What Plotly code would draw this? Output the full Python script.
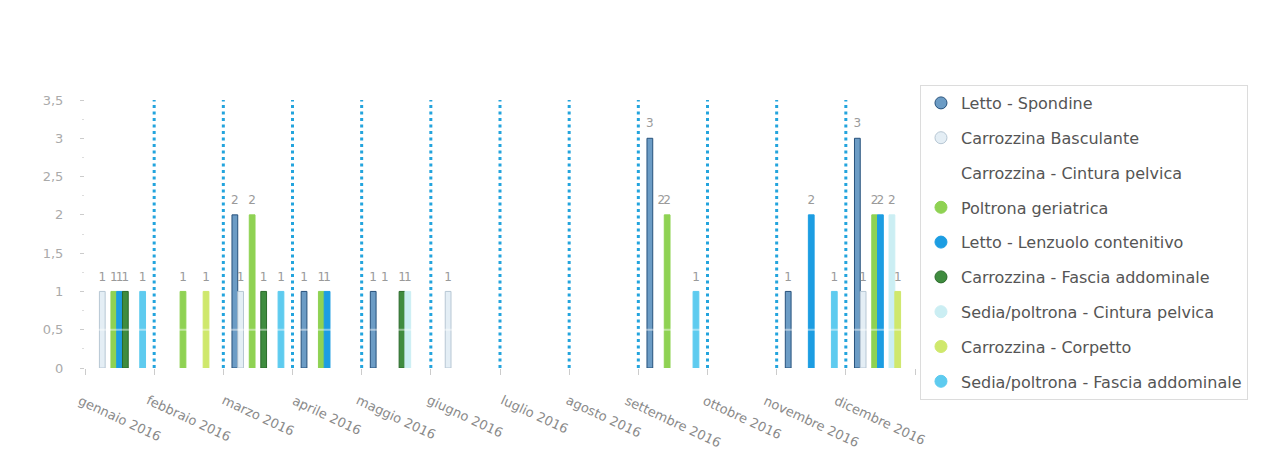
import plotly.graph_objects as go

# Monthly counts per restraint type (2016)
months = ["gennaio 2016", "febbraio 2016", "marzo 2016", "aprile 2016",
          "maggio 2016", "giugno 2016", "luglio 2016", "agosto 2016",
          "settembre 2016", "ottobre 2016", "novembre 2016", "dicembre 2016"]

series_names = [
    "Letto - Spondine",
    "Carrozzina Basculante",
    "Carrozzina - Cintura pelvica",
    "Poltrona geriatrica",
    "Letto - Lenzuolo contenitivo",
    "Carrozzina - Fascia addominale",
    "Sedia/poltrona - Cintura pelvica",
    "Carrozzina - Corpetto",
    "Sedia/poltrona - Fascia addominale",
]

letto_spondine = [0, 0, 2, 1, 1, 0, 0, 0, 3, 0, 1, 3]
carrozzina_basculante = [1, 0, 1, 0, 0, 1, 0, 0, 0, 0, 0, 1]
carrozzina_cintura_pelvica = [0, 0, 0, 0, 1, 0, 0, 0, 2, 0, 0, 0]
poltrona_geriatrica = [1, 1, 2, 1, 0, 0, 0, 0, 2, 0, 0, 2]
letto_lenzuolo = [1, 0, 0, 1, 0, 0, 0, 0, 0, 0, 2, 2]
carrozzina_fascia = [1, 0, 1, 0, 1, 0, 0, 0, 0, 0, 0, 0]
sedia_cintura_pelvica = [0, 0, 0, 0, 1, 0, 0, 0, 0, 0, 0, 2]
carrozzina_corpetto = [0, 1, 0, 0, 0, 0, 0, 0, 0, 0, 0, 1]
sedia_fascia = [1, 0, 1, 0, 0, 0, 0, 0, 1, 0, 1, 0]

series_values = [letto_spondine, carrozzina_basculante, carrozzina_cintura_pelvica,
                 poltrona_geriatrica, letto_lenzuolo, carrozzina_fascia,
                 sedia_cintura_pelvica, carrozzina_corpetto, sedia_fascia]

fill_colors = ["#6c9cc5", "#e4eef5", "#ffffff", "#8fd253", "#1c9de2",
               "#3f8c3f", "#cbeef3", "#cfe86c", "#5ecbef"]
edge_colors = ["#27527c", "#b7c7d4", "#ffffff", "#8fd253", "#1c9de2",
               "#2b6a2b", "#cbeef3", "#cfe86c", "#5ecbef"]

y_ticks = [0, 0.5, 1, 1.5, 2, 2.5, 3, 3.5]
GAP = 0.25

fig = go.Figure()

for name, vals, fc, ec in zip(series_names, series_values, fill_colors, edge_colors):
    shown = [v if v else None for v in vals]
    fig.add_trace(go.Bar(
        x=months, y=shown, name=name, legendgroup=name, offsetgroup=name,
        showlegend=False,
        marker=dict(color=fc, line=dict(color=ec, width=1)),
    ))
    # value labels above each bar, grouped like the bars
    fig.add_trace(go.Scatter(
        x=months, y=shown, name=name, legendgroup=name, offsetgroup=name,
        showlegend=False, mode="markers+text", text=[f"{v}" if v else "" for v in vals],
        textposition="top center", cliponaxis=False, hoverinfo="skip",
        marker=dict(size=11, color="rgba(0,0,0,0)"),
        textfont=dict(family="DejaVu Sans", size=12, color="#9a9a9a"),
    ))
    # round legend symbol
    fig.add_trace(go.Scatter(
        x=[None], y=[None], mode="markers", name=name, legendgroup=name,
        offsetgroup=name,
        marker=dict(symbol="circle", size=12, color=fc,
                    line=dict(color=ec if fc != "#ffffff" else "#ffffff", width=1)),
    ))

# dotted separators between months
shapes = []
for b in range(len(months) - 1):
    shapes.append(dict(type="line", xref="x", yref="y", x0=b + 0.5, x1=b + 0.5,
                       y0=0, y1=3.5, line=dict(color="#23a4dd", width=3, dash="3px,3.5px"),
                       layer="above"))
# faint band across the bars at 0,5
shapes.append(dict(type="line", xref="paper", yref="y", x0=0, x1=1, y0=0.5, y1=0.5,
                   line=dict(color="rgba(255,255,255,0.45)", width=2), layer="above"))

# rotated month labels centred under each month
annotations = []
for m in months:
    annotations.append(dict(x=m, xref="x", y=-0.082, yref="paper", text=m,
                            showarrow=False, textangle=25, xanchor="center",
                            yanchor="top",
                            font=dict(family="DejaVu Sans", size=13, color="#8a8a8a")))

fig.update_layout(
    width=1276, height=457,
    margin=dict(l=85, r=361, t=100, b=89),
    paper_bgcolor="white", plot_bgcolor="white",
    barmode="group", bargap=GAP, bargroupgap=0,
    scattermode="group", scattergap=GAP,
    separators=",.",
    font=dict(family="DejaVu Sans", color="#666"),
    shapes=shapes, annotations=annotations,
    showlegend=True,
    legend=dict(x=1.006, y=1.056, xanchor="left", yanchor="top",
                bgcolor="white", bordercolor="#dcdcdc", borderwidth=1,
                font=dict(family="DejaVu Sans", size=16, color="#555"),
                tracegroupgap=11, itemclick=False, maxheight=420),
)

fig.update_xaxes(type="category", categoryorder="array", categoryarray=months,
                 range=[-0.5, len(months) - 0.5], showticklabels=False,
                 ticks="outside", tickson="boundaries", ticklen=6, tickcolor="#cccccc",
                 showgrid=False, showline=False, zeroline=False)
fig.update_yaxes(range=[0, 3.5], tickvals=y_ticks, ticks="outside", ticklen=4,
                 tickcolor="#cccccc", ticklabelstandoff=14,
                 tickfont=dict(family="DejaVu Sans", size=13, color="#aaaaaa"),
                 minor=dict(dtick=0.25, ticks="outside", ticklen=2, tickcolor="#dddddd"),
                 showgrid=False, showline=False, zeroline=False)

fig.write_html("out.html")
